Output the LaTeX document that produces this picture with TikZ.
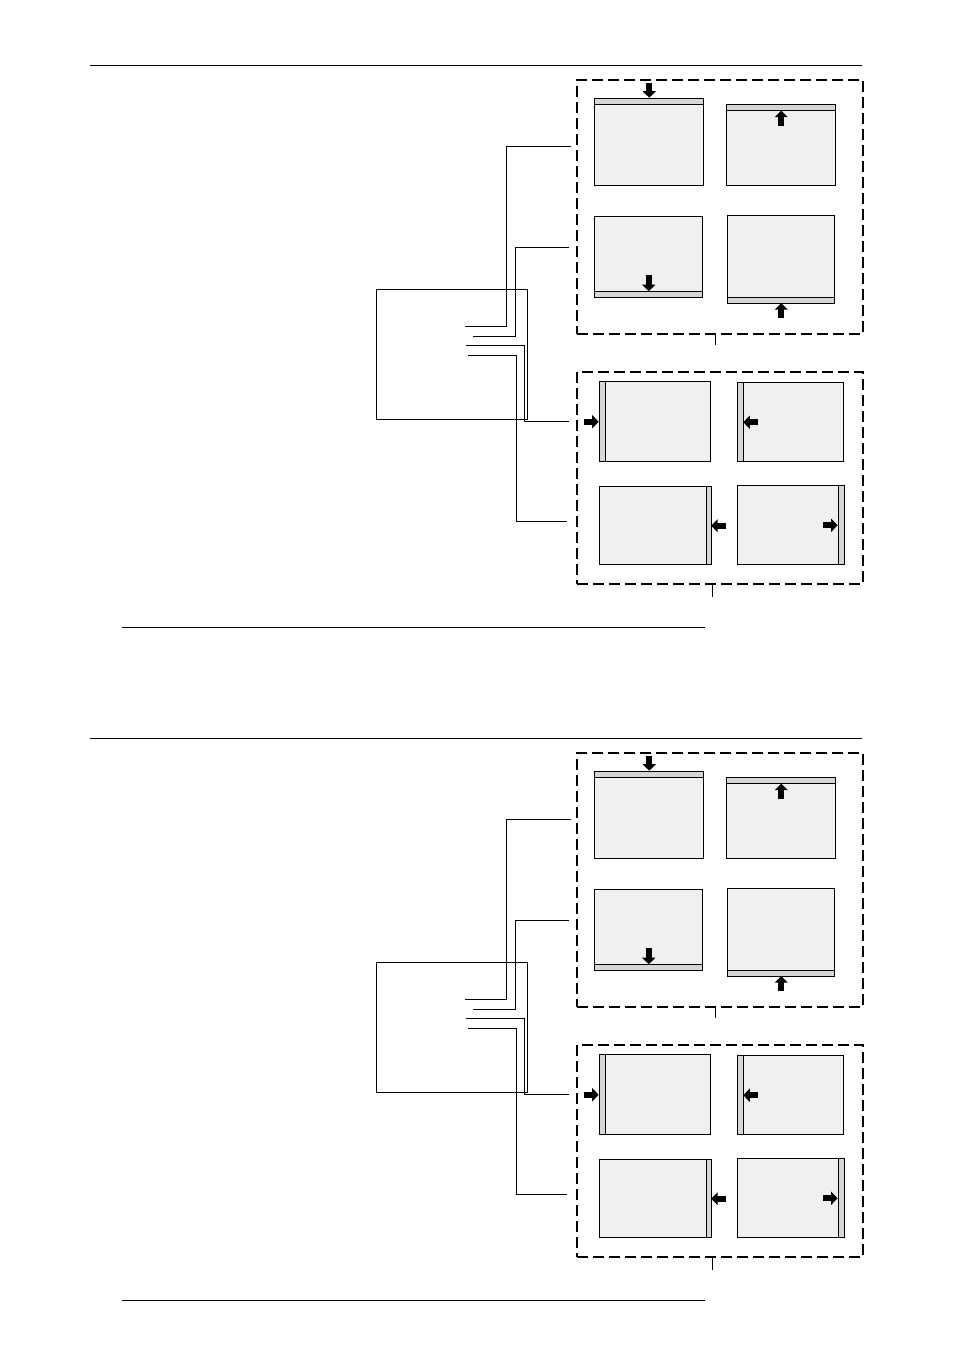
\documentclass[tikz,border=0pt]{standalone}
\usepackage{tikz}
\usetikzlibrary{arrows.meta,positioning}

\begin{document}
\begin{tikzpicture}[
  x=1pt, y=-1pt,
  rule/.style={line width=0.9pt},
  wire/.style={line width=0.9pt},
  unitbox/.style={draw, line width=0.9pt, anchor=north west, inner sep=0pt},
  group/.style={draw, dash pattern=on 11pt off 5pt, line width=2pt, anchor=north west, inner sep=0pt},
  screen/.style={draw, fill=black!6, line width=0.9pt, anchor=north west, inner sep=0pt},
  strip/.style={draw, fill=black!16, line width=0.9pt},
  blk/.style={line width=6pt, -{Triangle[length=6.5pt,width=13pt]}}
]
\useasboundingbox (0,0) rectangle (954,1350);
\foreach \k/\dy in {1/0, 2/673} {
\begin{scope}[yshift=-\dy pt]
\draw[rule] (90,65.5) -- (862,65.5);
\draw[rule] (122,627) -- (705,627);
% control unit and the two groups of screens
\node[unitbox, minimum width=151pt, minimum height=130pt] (unit\k) at (376.3,289.3) {};
\node[group, minimum width=286.3pt, minimum height=253.7pt] (grpV\k) at (576,79) {};
\node[group, minimum width=286.3pt, minimum height=211.4pt] (grpH\k) at (576,371.3) {};
\draw[wire] ([xshift=-5pt]grpV\k.south) -- ++(0,10);
\draw[wire] ([xshift=-8pt]grpH\k.south) -- ++(0,12);
% vertical screens
\node[screen, minimum width=109pt, minimum height=87pt] (sA\k) at (594.3,98.3) {};
\node[screen, minimum width=109pt, minimum height=81pt] (sB\k) at (726.3,104.3) {};
\node[screen, minimum width=108pt, minimum height=80pt] (sC\k) at (594.3,216.3) {};
\node[screen, minimum width=107pt, minimum height=87pt] (sD\k) at (727.3,215.3) {};
\draw[strip] (sA\k.north west) rectangle ++(109,6);
\draw[strip] (sB\k.north west) rectangle ++(109,6);
\draw[strip] (sC\k.south west) rectangle ++(108,-6);
\draw[strip] (sD\k.south west) rectangle ++(107,-6);
\draw[blk] ([yshift=15.6pt]sA\k.north) -- ([yshift=0.6pt]sA\k.north);
\draw[blk] ([yshift=-21.4pt]sB\k.north) -- ([yshift=-6.4pt]sB\k.north);
\draw[blk] ([yshift=22pt]sC\k.south) -- ([yshift=6pt]sC\k.south);
\draw[blk] ([yshift=-15pt]sD\k.south) -- (sD\k.south);
% horizontal screens
\node[screen, minimum width=111pt, minimum height=80pt] (sE\k) at (599.3,381.3) {};
\node[screen, minimum width=106pt, minimum height=79pt] (sF\k) at (737.3,382.3) {};
\node[screen, minimum width=111pt, minimum height=78pt] (sG\k) at (599.3,486.3) {};
\node[screen, minimum width=106pt, minimum height=79pt] (sH\k) at (737.3,485.3) {};
\draw[strip] (sE\k.north west) rectangle ++(6,80);
\draw[strip] (sF\k.north west) rectangle ++(6,79);
\draw[strip] (sG\k.north east) rectangle ++(-5,78);
\draw[strip] (sH\k.north east) rectangle ++(-6,79);
\draw[blk] ([xshift=-15pt]sE\k.west) -- ([xshift=-0.6pt]sE\k.west);
\draw[blk] ([xshift=20.4pt]sF\k.west) -- ([xshift=6pt]sF\k.west);
\draw[blk] ([xshift=15pt]sG\k.east) -- (sG\k.east);
\draw[blk] ([xshift=-21pt]sH\k.east) -- ([xshift=-6.6pt]sH\k.east);
% wires from the unit
\coordinate (s1\k) at (465,326.5);
\coordinate (s2\k) at (473,336.3);
\coordinate (s3\k) at (466,345.3);
\coordinate (s4\k) at (468,355.3);
\coordinate (v1\k) at (571,146.7);
\coordinate (v2\k) at (568.7,247.7);
\coordinate (h1\k) at (569,421.3);
\coordinate (h2\k) at (567,521);
\draw[wire] (s1\k) -- ++(41,0) |- (v1\k);
\draw[wire] (s2\k) -- ++(42.3,0) |- (v2\k);
\draw[wire] (s3\k) -- ++(58.3,0) |- (h1\k);
\draw[wire] (s4\k) -- ++(48.3,0) |- (h2\k);
\end{scope}
}
\end{tikzpicture}
\end{document}
